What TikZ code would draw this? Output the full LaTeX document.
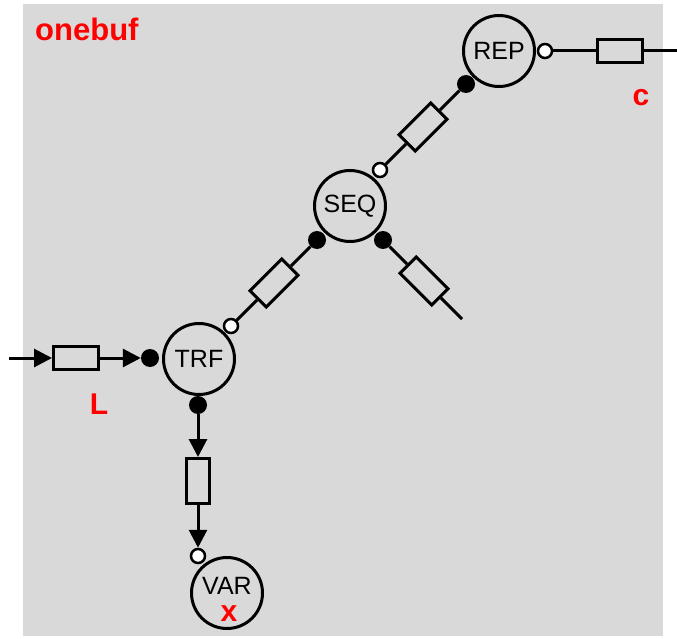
\documentclass[tikz,border=0pt]{standalone}
\usepackage{fontspec}
\setmainfont{Liberation Sans}
\usetikzlibrary{arrows.meta}
\definecolor{bggray}{HTML}{D9D9D9}
\definecolor{lblred}{HTML}{FF0000}
\tikzset{
  proc/.style={circle, draw, line width=3pt, minimum size=71pt, inner sep=0pt, fill=bggray,
               font=\fontsize{25}{30}\selectfont},
  opendot/.style={circle, draw, line width=2.5pt, fill=white, minimum size=14pt, inner sep=0pt},
  filldot/.style={circle, fill=black, minimum size=18pt, inner sep=0pt},
  buf/.style={rectangle, draw, line width=3pt, minimum width=45pt, minimum height=23pt, inner sep=0pt, fill=bggray},
  conn/.style={line width=3pt},
  arr/.style={line width=3pt, -{Triangle[length=18pt,width=18pt]}},
  redlbl/.style={text=lblred, font=\fontsize{30}{36}\selectfont\bfseries, inner sep=0pt},
  plainlbl/.style={font=\fontsize{25}{30}\selectfont, inner sep=0pt}
}
\begin{document}
\begin{tikzpicture}[x=1pt,y=-1pt]
\useasboundingbox (0,0) rectangle (677,639);
\fill[bggray] (23,4) rectangle (663,636);

\node[redlbl, anchor=base west, font=\fontsize{31}{36}\selectfont\bfseries] (title) at (35,41) {onebuf};

% process nodes
\node[proc] (rep) at (499,51) {REP};
\node[proc] (seq) at (350,206) {SEQ};
\node[proc] (trf) at (199,359) {TRF};
\node[proc] (var) at (227,593) {};
\node[plainlbl] (vartext) at (227,586) {VAR};
\node[redlbl] (x) at (229,614) {x};

% REP ports
\node[opendot] (repo) at (545,51) {};
\node[filldot] (repf) at (466,84) {};
\node[buf] (repbuf) at (620,51) {};
\coordinate (cend) at (677,51);
\draw[conn] (repo) -- (repbuf) -- (cend);
\node[redlbl] (c) at (641,98) {c};

% SEQ ports
\node[opendot] (seqo) at (380,170) {};
\node[filldot] (seql) at (317,240) {};
\node[filldot] (seqr) at (383,240) {};
\node[buf, rotate=45] (b1) at (423,127) {};
\draw[conn] (repf) -- (b1) -- (seqo);
\node[buf, rotate=-45] (b2) at (424,281) {};
\coordinate (send) at (462,319);
\draw[conn] (seqr) -- (b2) -- (send);

% TRF ports
\node[opendot] (trfo) at (231,326) {};
\node[buf, rotate=45] (b3) at (274,283) {};
\draw[conn] (seql) -- (b3) -- (trfo);
\node[filldot] (trfl) at (150,358) {};
\node[buf] (lbuf) at (76,358) {};
\coordinate (lstart) at (9,358);
\draw[arr] (lstart) -- (lbuf);
\draw[arr] (lbuf) -- (trfl);
\node[redlbl] (L) at (99,404) {L};

\node[filldot] (trfb) at (198,405) {};
\node[buf, rotate=90] (vbuf) at (198,481) {};
\node[opendot] (varo) at (198,556) {};
\draw[arr] (trfb) -- (vbuf);
\draw[arr] (vbuf) -- (varo);
\end{tikzpicture}
\end{document}
